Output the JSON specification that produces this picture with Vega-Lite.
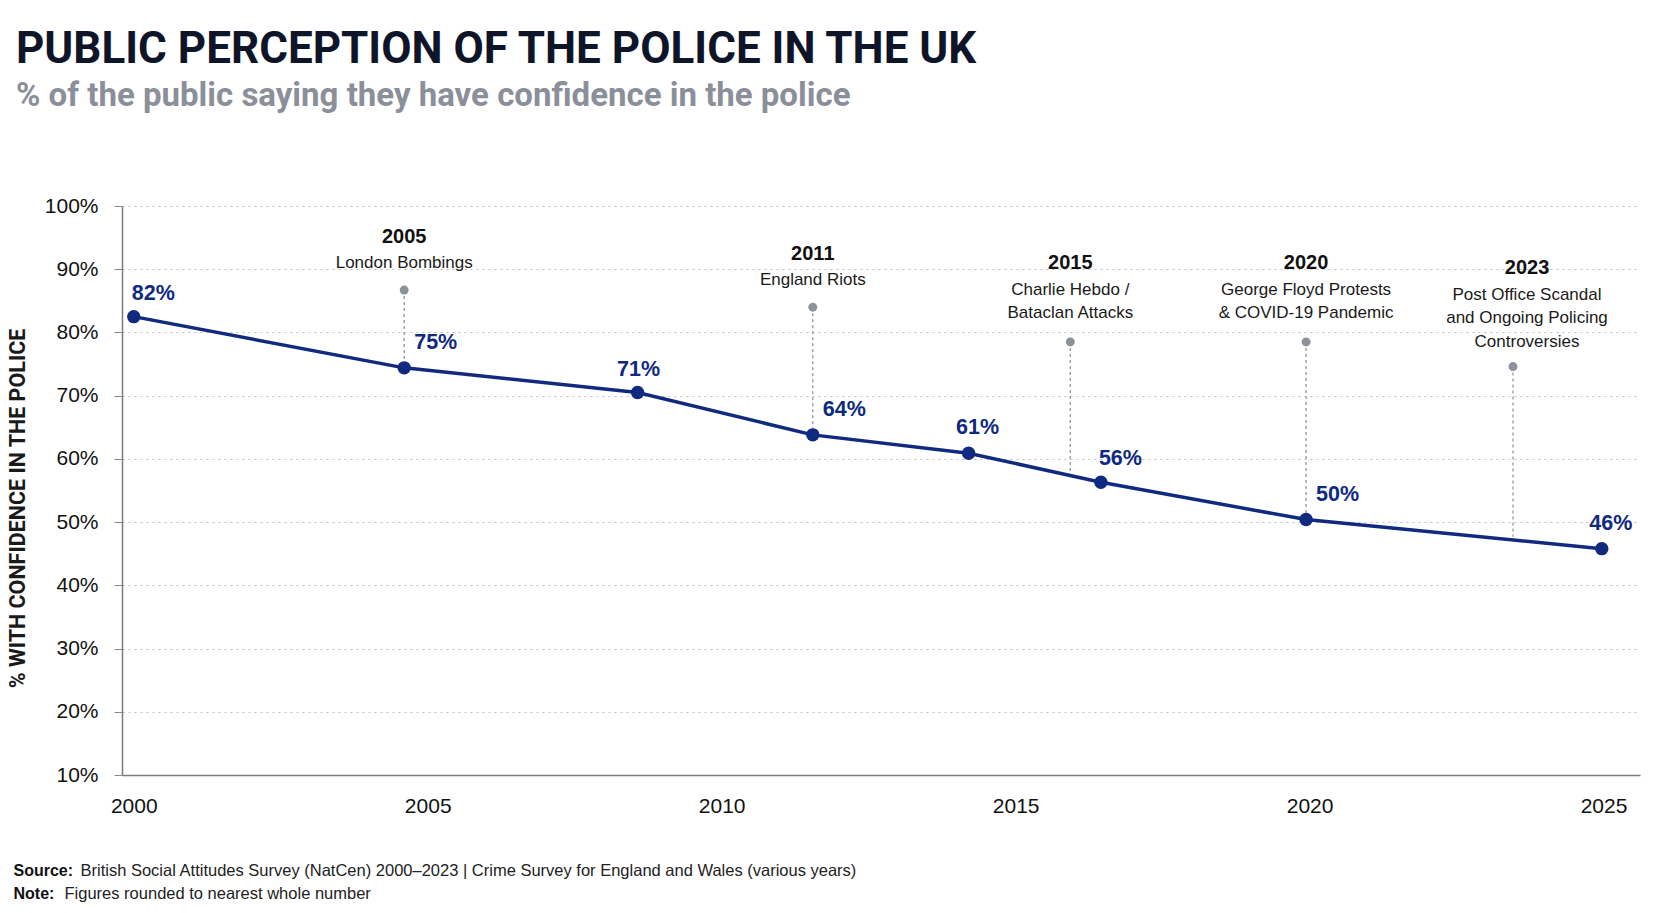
{
  "$schema": "https://vega.github.io/schema/vega-lite/v6.json",
  "width": 1518,
  "height": 569,
  "autosize": {"type": "none"},
  "padding": {"left": 122, "top": 206, "right": 28, "bottom": 138},
  "background": "#ffffff",
  "title": {
    "text": "PUBLIC PERCEPTION OF THE POLICE IN THE UK",
    "subtitle": "% of the public saying they have confidence in the police",
    "anchor": "start",
    "frame": "group",
    "dx": -106,
    "offset": 82,
    "font": "Roboto",
    "fontSize": 44,
    "fontWeight": "bold",
    "color": "#0f1529",
    "subtitleFont": "Roboto",
    "subtitleFontSize": 33,
    "subtitleFontWeight": "bold",
    "subtitleColor": "#8a8f99",
    "subtitlePadding": 8
  },
  "config": {"view": {"stroke": null}, "font": "Liberation Sans"},
  "datasets": {
    "survey": [
      {"year": 2000.0, "value": 82.5, "label": "82%"},
      {"year": 2004.6, "value": 74.4, "label": "75%"},
      {"year": 2008.57, "value": 70.5, "label": "71%"},
      {"year": 2011.55, "value": 63.8, "label": "64%"},
      {"year": 2014.2, "value": 60.9, "label": "61%"},
      {"year": 2016.45, "value": 56.3, "label": "56%"},
      {"year": 2019.94, "value": 50.4, "label": "50%"},
      {"year": 2024.97, "value": 45.8, "label": "46%"}
    ],
    "events": [
      {"event": "2005", "desc": ["London Bombings"], "year": 2004.6, "dot": 86.7, "end": 74.4},
      {"event": "2011", "desc": ["England Riots"], "year": 2011.55, "dot": 84.0, "end": 63.8},
      {"event": "2015", "desc": ["Charlie Hebdo /", "Bataclan Attacks"], "year": 2015.93, "dot": 78.5, "end": 57.5},
      {"event": "2020", "desc": ["George Floyd Protests", "& COVID-19 Pandemic"], "year": 2019.94, "dot": 78.5, "end": 50.4},
      {"event": "2023", "desc": ["Post Office Scandal", "and Ongoing Policing", "Controversies"], "year": 2023.46, "dot": 74.6, "end": 47.7}
    ]
  },
  "resolve": {"axis": {"x": "independent", "y": "independent"}},
  "layer": [
    {
      "data": {"name": "events"},
      "mark": {"type": "rule", "color": "#9a9ea6", "strokeWidth": 1.4, "strokeDash": [3, 3]},
      "encoding": {
        "x": {"field": "year", "type": "quantitative", "scale": {"domain": [1999.8, 2025.62], "nice": false, "zero": false}, "axis": null},
        "y": {
          "field": "dot", "type": "quantitative",
          "scale": {"domain": [10, 100], "nice": false, "zero": false},
          "axis": {
            "orient": "right", "labels": false, "ticks": false, "domain": false, "grid": false,
            "title": "British Social Attitudes Survey (NatCen) 2000–2023 | Crime Survey for England and Wales (various years)",
            "titleAngle": 0, "titleX": -1560, "titleY": 656, "titleAlign": "left", "titleBaseline": "top",
            "titleFont": "Liberation Sans", "titleFontSize": 16.5, "titleFontWeight": "normal", "titleColor": "#222222"
          }
        },
        "y2": {"field": "end"}
      }
    },
    {
      "data": {"name": "events"},
      "mark": {"type": "point", "filled": true, "opacity": 1, "size": 80, "color": "#8d9199"},
      "encoding": {
        "x": {
          "field": "year", "type": "quantitative",
          "axis": {
            "orient": "top", "labels": false, "ticks": false, "domain": false, "grid": false,
            "title": "Figures rounded to nearest whole number",
            "titleX": -58, "titleY": 679.5, "titleAlign": "left", "titleBaseline": "top", "titleAngle": 0,
            "titleFont": "Liberation Sans", "titleFontSize": 16.5, "titleFontWeight": "normal", "titleColor": "#222222"
          }
        },
        "y": {"field": "dot", "type": "quantitative", "axis": null}
      }
    },
    {
      "data": {"name": "survey"},
      "mark": {"type": "line", "color": "#0f2a7f", "strokeWidth": 3.5},
      "encoding": {
        "x": {
          "field": "year", "type": "quantitative",
          "axis": {
            "orient": "bottom", "values": [2000, 2005, 2010, 2015, 2020, 2025], "format": "d",
            "labelFont": "Liberation Sans", "labelFontSize": 21, "labelColor": "#111111", "labelPadding": 20,
            "ticks": false, "grid": false, "domainColor": "#7a7a7a", "domainWidth": 1.5,
            "title": ["Source:", "Note:"],
            "titleX": -109, "titleY": 87, "titleAlign": "left", "titleBaseline": "top", "titleAngle": 0,
            "titleLineHeight": 23,
            "titleFont": "Liberation Sans", "titleFontSize": 16, "titleFontWeight": "bold", "titleColor": "#111111"
          }
        },
        "y": {
          "field": "value", "type": "quantitative",
          "axis": {
            "orient": "left", "values": [10, 20, 30, 40, 50, 60, 70, 80, 90, 100],
            "labelExpr": "datum.value + '%'",
            "labelFont": "Liberation Sans", "labelFontSize": 21, "labelColor": "#111111", "labelPadding": 16,
            "tickSize": 8, "tickColor": "#8a8a8a", "domainColor": "#7a7a7a", "domainWidth": 1.5,
            "grid": true, "gridColor": "#bdbdbd", "gridDash": [2, 4], "gridWidth": 1.2,
            "title": "% WITH CONFIDENCE IN THE POLICE",
            "titleFont": "Roboto", "titleFontSize": 21.5, "titleFontWeight": "bold", "titleColor": "#1a1a1a",
            "titleAngle": -90, "titleX": -104, "titleY": 302, "titleAlign": "center", "titleBaseline": "middle"
          }
        }
      }
    },
    {
      "data": {"name": "survey"},
      "mark": {"type": "point", "filled": true, "opacity": 1, "size": 180, "color": "#0f2a7f"},
      "encoding": {
        "x": {"field": "year", "type": "quantitative", "axis": null},
        "y": {"field": "value", "type": "quantitative", "axis": null}
      }
    },
    {
      "data": {"name": "survey"},
      "transform": [{"filter": {"field": "label", "oneOf": ["75%", "64%", "50%"]}}],
      "mark": {"type": "text", "align": "left", "baseline": "middle", "dx": 10, "dy": -25, "font": "Liberation Sans", "fontSize": 21.5, "fontWeight": "bold", "color": "#0f2a7f"},
      "encoding": {
        "x": {"field": "year", "type": "quantitative", "axis": null},
        "y": {"field": "value", "type": "quantitative", "axis": null},
        "text": {"field": "label"}
      }
    },
    {
      "data": {"name": "survey"},
      "transform": [{"filter": {"field": "label", "oneOf": ["82%", "56%"]}}],
      "mark": {"type": "text", "align": "left", "baseline": "middle", "dx": -2, "dy": -23, "font": "Liberation Sans", "fontSize": 21.5, "fontWeight": "bold", "color": "#0f2a7f"},
      "encoding": {
        "x": {"field": "year", "type": "quantitative", "axis": null},
        "y": {"field": "value", "type": "quantitative", "axis": null},
        "text": {"field": "label"}
      }
    },
    {
      "data": {"name": "survey"},
      "transform": [{"filter": {"field": "label", "oneOf": ["71%"]}}],
      "mark": {"type": "text", "align": "center", "baseline": "middle", "dx": 1, "dy": -23, "font": "Liberation Sans", "fontSize": 21.5, "fontWeight": "bold", "color": "#0f2a7f"},
      "encoding": {
        "x": {"field": "year", "type": "quantitative", "axis": null},
        "y": {"field": "value", "type": "quantitative", "axis": null},
        "text": {"field": "label"}
      }
    },
    {
      "data": {"name": "survey"},
      "transform": [{"filter": {"field": "label", "oneOf": ["61%", "46%"]}}],
      "mark": {"type": "text", "align": "center", "baseline": "middle", "dx": 9, "dy": -25, "font": "Liberation Sans", "fontSize": 21.5, "fontWeight": "bold", "color": "#0f2a7f"},
      "encoding": {
        "x": {"field": "year", "type": "quantitative", "axis": null},
        "y": {"field": "value", "type": "quantitative", "axis": null},
        "text": {"field": "label"}
      }
    },
    {
      "data": {"name": "events"},
      "transform": [{"filter": {"field": "event", "oneOf": ["2005", "2011"]}}],
      "mark": {"type": "text", "align": "center", "baseline": "bottom", "dy": -18, "lineHeight": 23.5, "font": "Liberation Sans", "fontSize": 17, "color": "#1a1a1a"},
      "encoding": {
        "x": {"field": "year", "type": "quantitative", "axis": null},
        "y": {"field": "dot", "type": "quantitative", "axis": null},
        "text": {"field": "desc"}
      }
    },
    {
      "data": {"name": "events"},
      "transform": [{"filter": {"field": "event", "oneOf": ["2015", "2020"]}}],
      "mark": {"type": "text", "align": "center", "baseline": "bottom", "dy": -43, "lineHeight": 23.5, "font": "Liberation Sans", "fontSize": 17, "color": "#1a1a1a"},
      "encoding": {
        "x": {"field": "year", "type": "quantitative", "axis": null},
        "y": {"field": "dot", "type": "quantitative", "axis": null},
        "text": {"field": "desc"}
      }
    },
    {
      "data": {"name": "events"},
      "transform": [{"filter": {"field": "event", "oneOf": ["2023"]}}],
      "mark": {"type": "text", "align": "center", "baseline": "bottom", "dx": 14, "dy": -63, "lineHeight": 23.5, "font": "Liberation Sans", "fontSize": 17, "color": "#1a1a1a"},
      "encoding": {
        "x": {"field": "year", "type": "quantitative", "axis": null},
        "y": {"field": "dot", "type": "quantitative", "axis": null},
        "text": {"field": "desc"}
      }
    },
    {
      "data": {"name": "events"},
      "transform": [{"filter": {"field": "event", "oneOf": ["2005", "2011"]}}],
      "mark": {"type": "text", "align": "center", "baseline": "middle", "dy": -53, "font": "Liberation Sans", "fontSize": 20, "fontWeight": "bold", "color": "#111111"},
      "encoding": {
        "x": {"field": "year", "type": "quantitative", "axis": null},
        "y": {"field": "dot", "type": "quantitative", "axis": null},
        "text": {"field": "event"}
      }
    },
    {
      "data": {"name": "events"},
      "transform": [{"filter": {"field": "event", "oneOf": ["2015", "2020"]}}],
      "mark": {"type": "text", "align": "center", "baseline": "middle", "dy": -79, "font": "Liberation Sans", "fontSize": 20, "fontWeight": "bold", "color": "#111111"},
      "encoding": {
        "x": {"field": "year", "type": "quantitative", "axis": null},
        "y": {"field": "dot", "type": "quantitative", "axis": null},
        "text": {"field": "event"}
      }
    },
    {
      "data": {"name": "events"},
      "transform": [{"filter": {"field": "event", "oneOf": ["2023"]}}],
      "mark": {"type": "text", "align": "center", "baseline": "middle", "dx": 14, "dy": -99, "font": "Liberation Sans", "fontSize": 20, "fontWeight": "bold", "color": "#111111"},
      "encoding": {
        "x": {"field": "year", "type": "quantitative", "axis": null},
        "y": {"field": "dot", "type": "quantitative", "axis": null},
        "text": {"field": "event"}
      }
    }
  ]
}
